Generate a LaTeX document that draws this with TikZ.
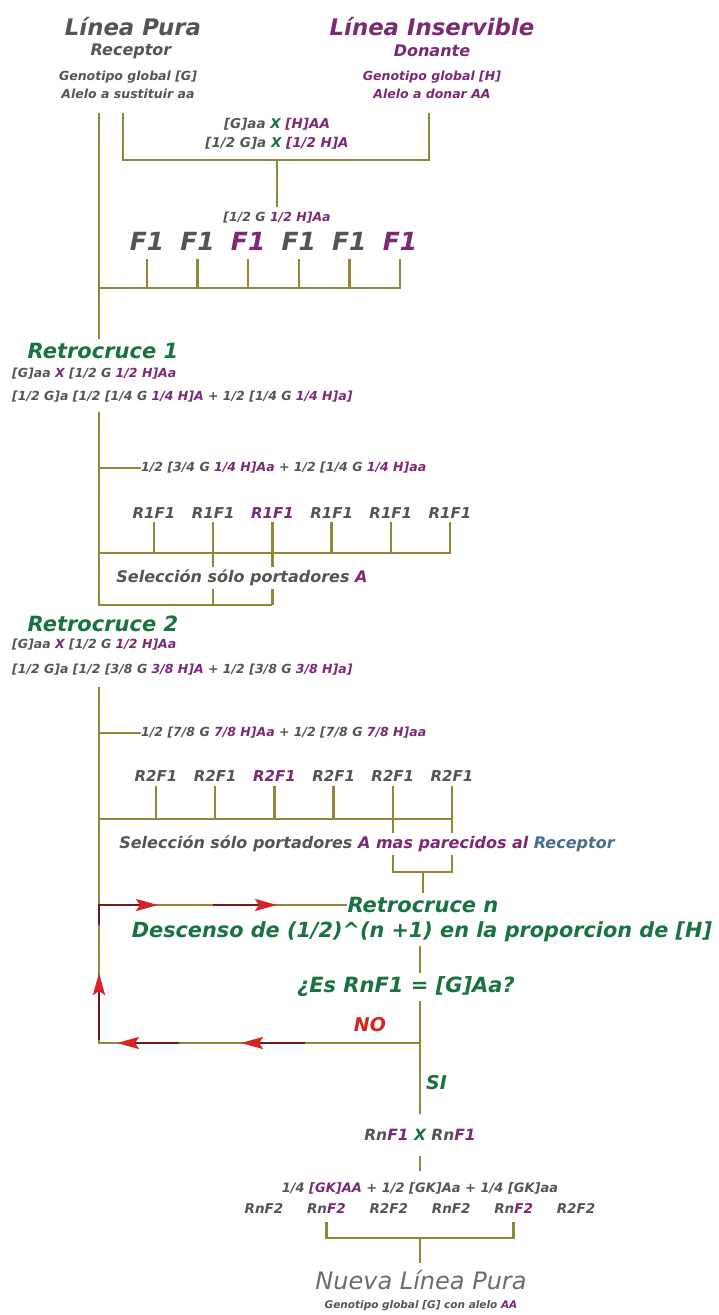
\documentclass[tikz,border=0pt]{standalone}
\usepackage{fontspec}
\setmainfont{DejaVu Sans}
\usetikzlibrary{positioning,calc,arrows.meta}

\definecolor{gristxt}{RGB}{82,86,82}
\definecolor{grisclaro}{RGB}{105,110,105}
\definecolor{morado}{RGB}{125,40,115}
\definecolor{verde}{RGB}{25,115,65}
\definecolor{rojo}{RGB}{215,35,35}
\definecolor{granate}{RGB}{115,25,25}
\definecolor{oliva}{RGB}{148,134,55}
\definecolor{azulg}{RGB}{70,110,140}

\newcommand{\tam}[1]{\fontsize{#1}{#1}\selectfont}
\newcommand{\mo}[1]{\textcolor{morado}{#1}}
\newcommand{\ve}[1]{\textcolor{verde}{#1}}

\tikzstyle{txt} = [inner sep=0pt,
				   text=gristxt,
				   font=\bfseries\itshape]
\tikzstyle{titulo} = [txt,
					  font=\bfseries\itshape\tam{22.8}]
\tikzstyle{subt} = [txt,
					font=\bfseries\itshape\tam{16}]
\tikzstyle{geno} = [txt,
					align=center,
					font=\bfseries\itshape\fontsize{12.5}{18}\selectfont]
\tikzstyle{fila} = [txt,
					font=\bfseries\itshape\tam{12.5}]
\tikzstyle{hijo_f1} = [txt,
					   font=\bfseries\itshape\tam{25},
					   minimum width=36pt,
					   outer ysep=9pt]
\tikzstyle{hijo_rf} = [txt,
					   font=\bfseries\itshape\tam{15},
					   minimum width=50pt,
					   outer ysep=4pt]
\tikzstyle{hijo_rn} = [txt,
					   font=\bfseries\itshape\tam{13.5},
					   minimum width=45pt,
					   outer ysep=9pt]
\tikzstyle{retro} = [txt,
					 text=verde,
					 font=\bfseries\itshape\tam{21},
					 outer ysep=4pt]
\tikzstyle{selec} = [txt,
					 font=\bfseries\itshape\tam{16},
					 outer ysep=3pt]
\tikzstyle{cruce} = [draw=oliva,
					 line width=2.4pt]
\tikzstyle{vuelta} = [draw=granate,
					  line width=2.6pt,
					  -{Stealth[length=22pt,width=12pt,inset=4pt,color=rojo]}]

\begin{document}
\begin{tikzpicture}[x=1pt, y=-1pt]
	\fill[white] (0,0) rectangle (718,1315);
	\useasboundingbox (0,0) rectangle (718,1315);

	%%%%%%%%%%%%
	% PADRES   %
	%%%%%%%%%%%%
	\node[titulo] (lpura) at (133,27) {Línea Pura};
	\node[titulo, text=morado] (linserv) at (432,27) {Línea Inservible};
	\node[subt] (recep) at (131,51) {Receptor};
	\node[subt, text=morado] (donan) at (432,51) {Donante};
	\node[geno] (genoG) at (128,85) {Genotipo global [G]\\Alelo a sustituir aa};
	\node[geno, text=morado] (genoH) at (432,85) {Genotipo global [H]\\Alelo a donar AA};
	\node[geno, font=\bfseries\itshape\fontsize{13.5}{19}\selectfont] (cruz1) at (277,134) {[G]aa \ve{X} \mo{[H]AA}\\{}[1/2 G]a \ve{X} \mo{[1/2 H]A}};

	\coordinate (t1) at (99,113);
	\coordinate (brazoA) at (123,113);
	\coordinate (brazoB) at (429,113);
	\coordinate (barra0) at (123,160);
	\draw[cruce] (brazoA) -- (barra0) -- (barra0 -| brazoB) -- (brazoB);
	\node[fila, outer ysep=5pt] (hib) at (277,218) {[1/2 G \mo{1/2 H]Aa}};
	\draw[cruce] (hib.north |- barra0) -- (hib.north);

	%%%%%%%%%%%%
	% F1       %
	%%%%%%%%%%%%
	\node[hijo_f1] (f1a) at (147,241) {F1};
	\node[hijo_f1, right=14.2pt of f1a] (f1b) {F1};
	\node[hijo_f1, right=14.2pt of f1b, text=morado] (f1c) {F1};
	\node[hijo_f1, right=14.2pt of f1c] (f1d) {F1};
	\node[hijo_f1, right=14.2pt of f1d] (f1e) {F1};
	\node[hijo_f1, right=14.2pt of f1e, text=morado] (f1f) {F1};
	\coordinate (barF1) at (99,288);
	\draw[cruce] (f1a.south) -- (f1a.south |- barF1) (f1b.south) -- (f1b.south |- barF1)
		(f1c.south) -- (f1c.south |- barF1) (f1d.south) -- (f1d.south |- barF1)
		(f1e.south) -- (f1e.south |- barF1) (f1f.south) -- (f1f.south |- barF1) -- (barF1);

	%%%%%%%%%%%%%%%%
	% RETROCRUCE 1 %
	%%%%%%%%%%%%%%%%
	\node[retro] (retro1) at (103,351) {Retrocruce 1};
	\draw[cruce] (t1) -- (t1 |- retro1.north);
	\node[fila, anchor=west] (r1eqa) at (12,374) {[G]aa \mo{X} [1/2 G \mo{1/2 H]Aa}};
	\node[fila, anchor=west] (r1eqb) at (12,397) {[1/2 G]a [1/2 [1/4 G \mo{1/4 H]A} + 1/2 [1/4 G \mo{1/4 H]a]}};
	\coordinate (t2) at (99,412);
	\coordinate (selA) at (99,605);
	\node[fila, anchor=west] (r1prog) at (141,468) {1/2 [3/4 G \mo{1/4 H]Aa} + 1/2 [1/4 G \mo{1/4 H]aa}};
	\draw[cruce] (t2 |- r1prog.west) -- (r1prog.west);

	\node[hijo_rf] (r1a) at (154,513) {R1F1};
	\node[hijo_rf, right=8.8pt of r1a] (r1b) {R1F1};
	\node[hijo_rf, right=8.8pt of r1b, text=morado] (r1c) {R1F1};
	\node[hijo_rf, right=8.8pt of r1c] (r1d) {R1F1};
	\node[hijo_rf, right=8.8pt of r1d] (r1e) {R1F1};
	\node[hijo_rf, right=8.8pt of r1e] (r1f) {R1F1};
	\node[selec] (sel1) at (242,578) {Selección sólo portadores \mo{A}};
	\coordinate (barR1) at (99,553);
	\draw[cruce] (r1a.south) -- (r1a.south |- barR1) (r1d.south) -- (r1d.south |- barR1)
		(r1e.south) -- (r1e.south |- barR1) (r1f.south) -- (r1f.south |- barR1) -- (barR1);
	\draw[cruce] (r1b.south) -- (r1b.south |- sel1.north) (r1b.south |- sel1.south) -- (r1b.south |- selA)
		(r1c.south) -- (r1c.south |- sel1.north) (r1c.south |- sel1.south) -- (r1c.south |- selA);
	\draw[cruce] (t2) -- (selA) -- (r1c.south |- selA);

	%%%%%%%%%%%%%%%%
	% RETROCRUCE 2 %
	%%%%%%%%%%%%%%%%
	\node[retro] (retro2) at (103,624) {Retrocruce 2};
	\node[fila, anchor=west] (r2eqa) at (12,645) {[G]aa \mo{X} [1/2 G \mo{1/2 H]Aa}};
	\node[fila, anchor=west] (r2eqb) at (12,670) {[1/2 G]a [1/2 [3/8 G \mo{3/8 H]A} + 1/2 [3/8 G \mo{3/8 H]a]}};
	\coordinate (t3) at (99,687);
	\node[fila, anchor=west] (r2prog) at (141,733) {1/2 [7/8 G \mo{7/8 H]Aa} + 1/2 [7/8 G \mo{7/8 H]aa}};
	\draw[cruce] (t3 |- r2prog.west) -- (r2prog.west);

	\node[hijo_rf] (r2a) at (156,776) {R2F1};
	\node[hijo_rf, right=8.8pt of r2a] (r2b) {R2F1};
	\node[hijo_rf, right=8.8pt of r2b, text=morado] (r2c) {R2F1};
	\node[hijo_rf, right=8.8pt of r2c] (r2d) {R2F1};
	\node[hijo_rf, right=8.8pt of r2d] (r2e) {R2F1};
	\node[hijo_rf, right=8.8pt of r2e] (r2f) {R2F1};
	\node[selec] (sel2) at (367,844) {Selección sólo portadores \mo{A mas parecidos al} \textcolor{azulg}{Receptor}};
	\coordinate (barR2) at (99,819);
	\coordinate (selB) at (99,872);
	\draw[cruce] (r2a.south) -- (r2a.south |- barR2) (r2b.south) -- (r2b.south |- barR2)
		(r2c.south) -- (r2c.south |- barR2) (r2d.south) -- (r2d.south |- barR2);
	\draw[cruce] (r2e.south) -- (r2e.south |- sel2.north) (r2f.south) -- (r2f.south |- sel2.north)
		(r2e.south |- sel2.south) -- (r2e.south |- selB) -- (r2f.south |- selB) -- (r2f.south |- sel2.south);
	\draw[cruce] (r2f.south |- barR2) -- (barR2);

	%%%%%%%%%%%%%%%%
	% RETROCRUCE N %
	%%%%%%%%%%%%%%%%
	\node[retro] (retron) at (423,905) {Retrocruce n};
	\draw[cruce] (retron.north |- selB) -- (retron.north);
	\node[retro, font=\bfseries\itshape\tam{20.8}] (desc) at (422,932) {Descenso de (1/2)\textasciicircum(n +1) en la proporcion de [H]};
	\node[retro] (esrn) at (406,987) {¿Es RnF1 = [G]Aa?};
	\node[txt, text=rojo, font=\bfseries\itshape\tam{19}] (no) at (370,1025) {NO};
	\node[txt, text=verde, font=\bfseries\itshape\tam{19}, anchor=west] (si) at (426,1083) {SI};

	\coordinate (esqA) at (99,905);
	\coordinate (esqB) at (99,1043);
	\coordinate (ejeN) at (420,1043);
	\draw[cruce] (t3) -- (esqB) -- (ejeN);
	\draw[cruce] (esqA) -- (retron.west);
	\draw[cruce] (ejeN |- desc.south) -- (ejeN |- esrn.north);

	% bucle
	\coordinate (vA0) at (99,925);
	\coordinate (vA1) at (158,905);
	\coordinate (vB0) at (213,905);
	\coordinate (vB1) at (277,905);
	\coordinate (vC0) at (99,1040);
	\coordinate (vC1) at (99,973);
	\coordinate (vD0) at (305,1043);
	\coordinate (vD1) at (241,1043);
	\coordinate (vE0) at (179,1043);
	\coordinate (vE1) at (117,1043);
	\draw[vuelta] (vA0) -- (esqA) -- (vA1);
	\draw[vuelta] (vB0) -- (vB1);
	\draw[vuelta] (vC0) -- (vC1);
	\draw[vuelta] (vD0) -- (vD1);
	\draw[vuelta] (vE0) -- (vE1);

	%%%%%%%%%%%%%%%%
	% LINEA NUEVA  %
	%%%%%%%%%%%%%%%%
	\node[fila, font=\bfseries\itshape\tam{15.5}, outer ysep=15pt] (rnx) at (420,1135) {Rn\mo{F1} \ve{X} Rn\mo{F1}};
	\draw[cruce] (ejeN |- esrn.south) -- (ejeN |- rnx.north);
	\node[fila, font=\bfseries\itshape\tam{13}, outer ysep=11pt] (prop) at (420,1188) {1/4 \mo{[GK]AA} + 1/2 [GK]Aa + 1/4 [GK]aa};
	\draw[cruce] (rnx.south) -- (prop.north);

	\node[hijo_rn] (rn2a) at (264,1208) {RnF2};
	\node[hijo_rn, right=17pt of rn2a] (rn2b) {Rn\mo{F2}};
	\node[hijo_rn, right=17pt of rn2b] (rn2c) {R2F2};
	\node[hijo_rn, right=17pt of rn2c] (rn2d) {RnF2};
	\node[hijo_rn, right=17pt of rn2d] (rn2e) {Rn\mo{F2}};
	\node[hijo_rn, right=17pt of rn2e] (rn2f) {R2F2};

	\node[titulo, text=grisclaro, font=\itshape\tam{24}, outer ysep=7pt] (nueva) at (421,1280) {Nueva Línea Pura};
	\node[fila, font=\bfseries\itshape\tam{10.5}] (genoN) at (421,1306) {Genotipo global [G] con alelo \mo{AA}};
	\coordinate (brN) at (420,1238);
	\draw[cruce] (rn2b.south) -- (rn2b.south |- brN) -- (rn2e.south |- brN) -- (rn2e.south);
	\draw[cruce] (brN) -- (brN |- nueva.north);

\end{tikzpicture}
\end{document}
